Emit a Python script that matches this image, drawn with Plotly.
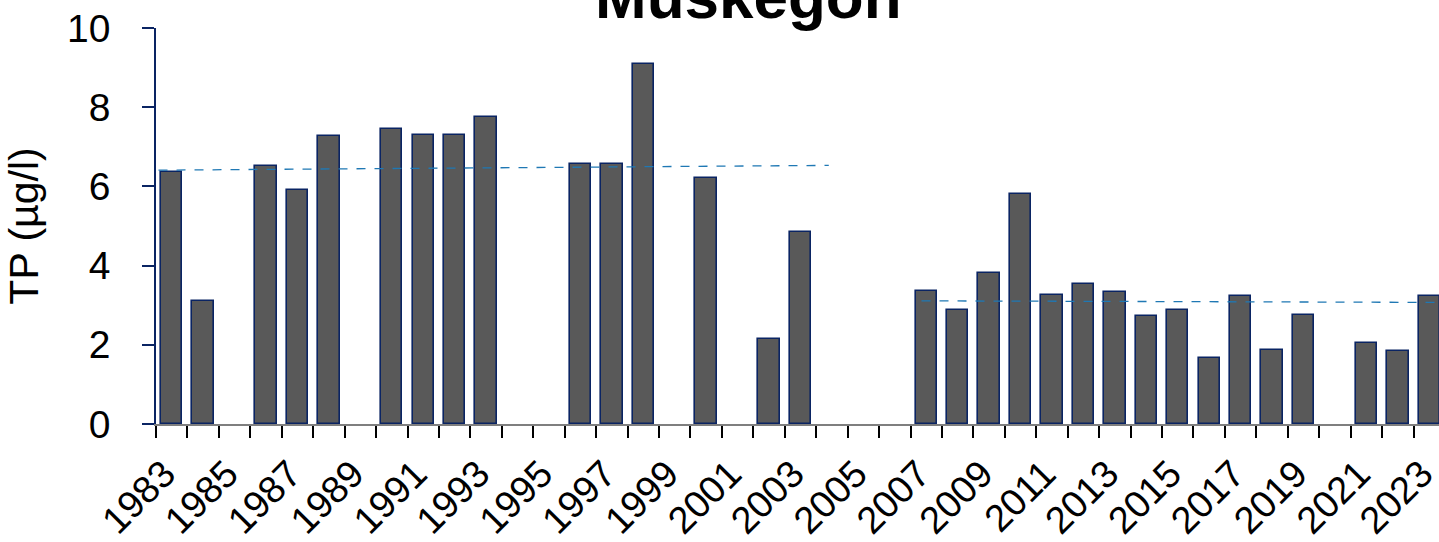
import plotly.graph_objects as go

years = list(range(1983, 2024))
tp = [6.36, 3.1, None, 6.52, 5.9, 7.27, None, 7.45, 7.3, 7.3, 7.75, None, None,
      6.56, 6.56, 9.09, None, 6.2, None, 2.15, 4.85, None, None, None,
      3.36, 2.88, 3.81, 5.81, 3.27, 3.54, 3.34, 2.72, 2.87, 1.67, 3.24, 1.88, 2.76,
      None, 2.05, 1.84, 3.24]

trend1_x = [1982.58, 2003.9]
trend1_y = [6.41, 6.53]
trend2_x = [2006.85, 2023.5]
trend2_y = [3.11, 3.07]

label_years = list(range(1983, 2024, 2))
y_ticks = [0, 2, 4, 6, 8, 10]

W, H = 1439, 542
L, R, T, B = 156, 0, 28, 118
pw, ph = W - L - R, H - T - B

fig = go.Figure()
fig.add_trace(go.Bar(x=years, y=tp, width=0.68,
                     marker=dict(color="#595959", line=dict(color="#0a2463", width=1.6)),
                     showlegend=False))
for tx, ty in [(trend1_x, trend1_y), (trend2_x, trend2_y)]:
    fig.add_trace(go.Scatter(x=tx, y=ty, mode="lines",
                             line=dict(color="#1f78b4", width=1.3, dash="dash"),
                             showlegend=False, hoverinfo="skip"))

fig.update_layout(
    width=W, height=H,
    margin=dict(l=L, r=R, t=T, b=B, pad=0),
    plot_bgcolor="white", paper_bgcolor="white",
    font=dict(family="Arial, Liberation Sans, sans-serif", color="black"),
    bargap=0,
    annotations=[dict(text="<b>Muskegon</b>", x=(748 - L) / pw, y=1 - 5 / ph,
                      xref="paper", yref="paper", xanchor="center", yanchor="bottom",
                      showarrow=False, font=dict(size=62, color="black"))],
)

fig.update_xaxes(
    range=[1982.5, 2023.31], automargin=False,
    tickmode="array", tickvals=label_years,
    ticktext=[str(y) + "\u00a0" for y in label_years],
    tickangle=-45, ticks="", tickfont=dict(size=38), ticklabelstandoff=3,
    ticklabeloverflow="allow",
    showline=True, linecolor="#7f7f7f", linewidth=1.5, showgrid=False, zeroline=False,
    minor=dict(tickmode="linear", tick0=1982.5, dtick=1, ticks="outside",
               ticklen=12, tickwidth=1.5, tickcolor="black", showgrid=False),
)
fig.update_yaxes(
    range=[0, 10], automargin=False, tickvals=y_ticks, ticks="outside", ticklen=12,
    tickwidth=1.5, tickcolor="#0a2463", tickfont=dict(size=39), ticklabelstandoff=24,
    showline=True, linecolor="#0a2463", linewidth=1.5, showgrid=False, zeroline=False,
    title=dict(text="TP (µg/l)", font=dict(size=41), standoff=16),
)

fig.write_html("out.html", config={"displayModeBar": False},
               post_script="document.body.style.margin='0';")
